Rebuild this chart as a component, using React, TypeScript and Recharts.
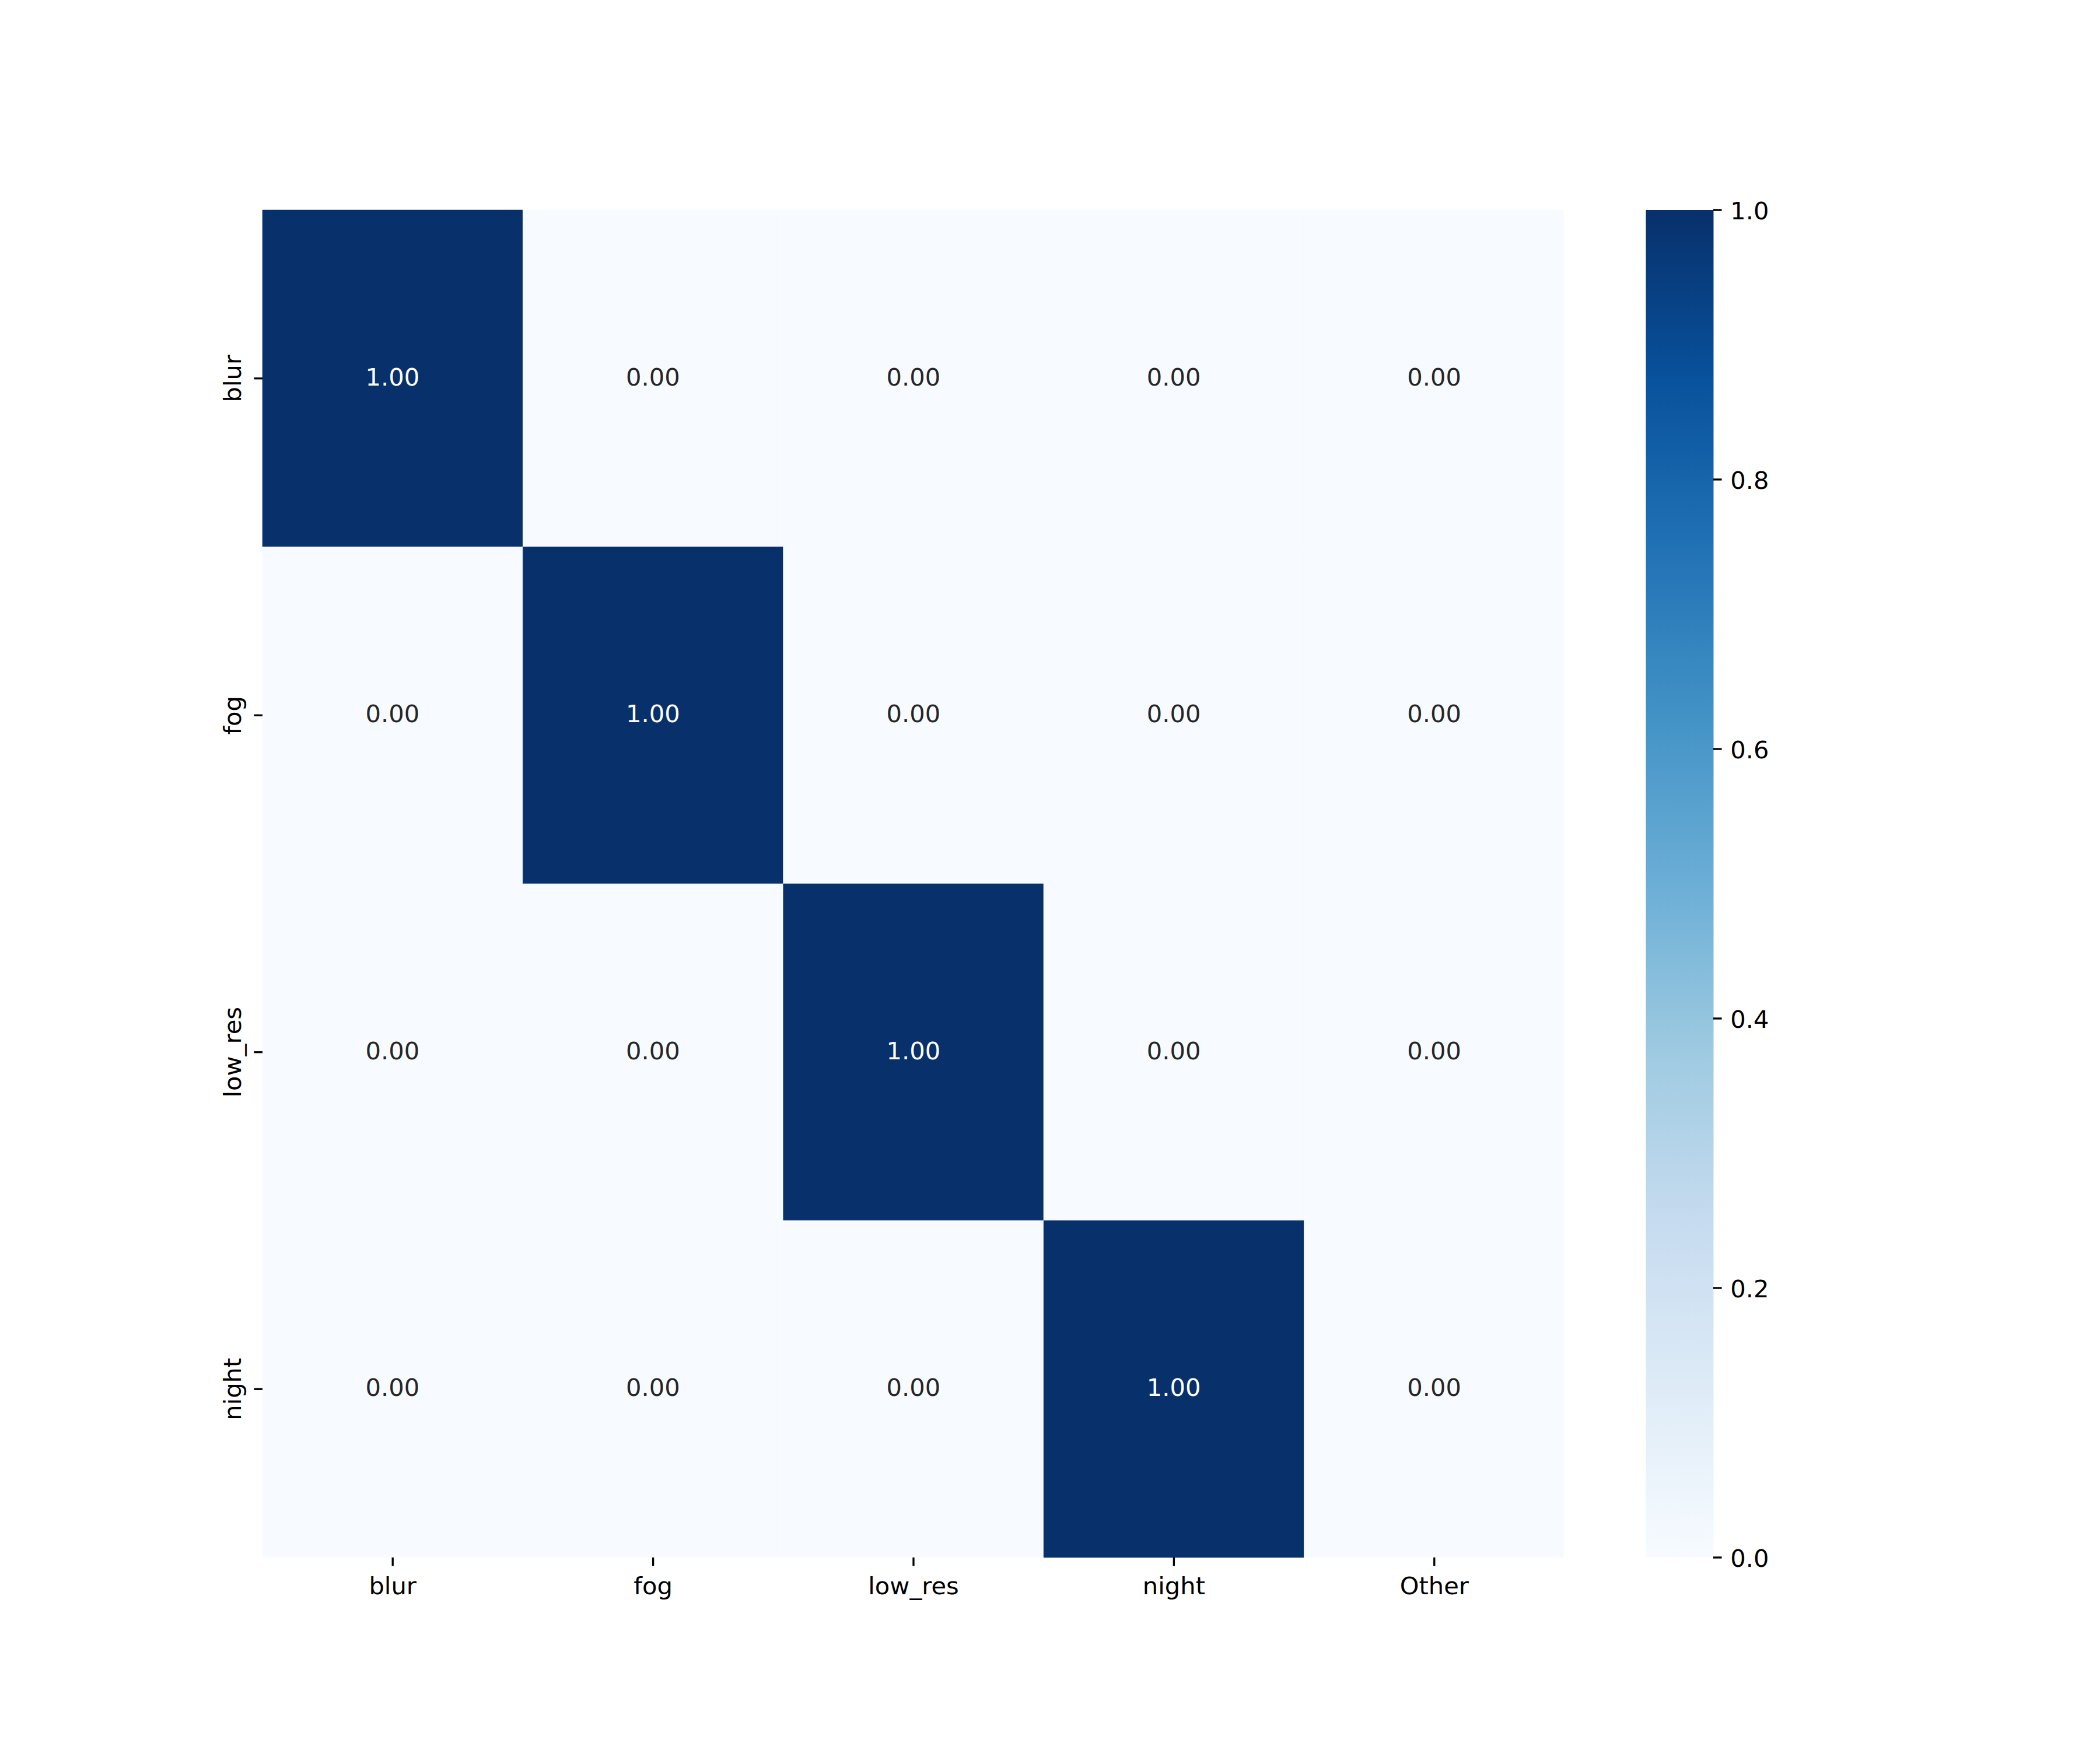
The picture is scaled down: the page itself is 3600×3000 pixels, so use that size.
import React from 'react'
import { BarChart, Bar, Cell, XAxis, YAxis, LabelList } from 'recharts'

// confusion matrix (rows = true label, cols = predicted)
const ROWS = ['blur', 'fog', 'low_res', 'night']
const COLS = ['blur', 'fog', 'low_res', 'night', 'Other']
const blurRow = [1.0, 0.0, 0.0, 0.0, 0.0]
const fogRow = [0.0, 1.0, 0.0, 0.0, 0.0]
const lowResRow = [0.0, 0.0, 1.0, 0.0, 0.0]
const nightRow = [0.0, 0.0, 0.0, 1.0, 0.0]
const MATRIX = [blurRow, fogRow, lowResRow, nightRow]
const ROW_TICKS = [0.5, 1.5, 2.5, 3.5]
const CBAR_TICKS = [0, 0.2, 0.4, 0.6, 0.8, 1.0]

const BLUES = ['#f7fbff', '#deebf7', '#c6dbef', '#9ecae1', '#6baed6', '#4292c6', '#2171b5', '#08519c', '#08306b']

const FONT = '"DejaVu Sans", sans-serif'
const FS = 41.67
const TICK = 14.58

function hex(c: string) {
  return [1, 3, 5].map(i => parseInt(c.slice(i, i + 2), 16))
}

function blues(v: number) {
  const t = Math.max(0, Math.min(1, v)) * (BLUES.length - 1)
  const i = Math.min(BLUES.length - 2, Math.floor(t))
  const f = t - i
  const a = hex(BLUES[i])
  const b = hex(BLUES[i + 1])
  const m = a.map((x, k) => Math.round(x + (b[k] - x) * f))
  return `rgb(${m[0]},${m[1]},${m[2]})`
}

// one stacked bar per column, one unit segment per row
const table = COLS.map((c, j) => {
  const o: any = { col: c }
  ROWS.forEach((_, i) => {
    o['u' + i] = 1
    o['v' + i] = MATRIX[i][j]
  })
  return o
})

const XTick = (props: any) => {
  const { x, y, payload } = props
  return (
    <text x={x} y={y + 33.5} textAnchor="middle" fontFamily={FONT} fontSize={FS} fill="#000">
      {payload.value}
    </text>
  )
}

const YTick = (props: any) => {
  const { x, y, payload } = props
  const bx = x - 7.8
  return (
    <text x={bx} y={y} textAnchor="middle" transform={`rotate(-90, ${bx}, ${y})`}
      fontFamily={FONT} fontSize={FS} fill="#000">
      {ROWS[Math.floor(payload.value)]}
    </text>
  )
}

const CbarTick = (props: any) => {
  const { x, y, payload } = props
  return (
    <text x={x} y={y + 15.5} textAnchor="start" fontFamily={FONT} fontSize={FS} fill="#000">
      {payload.value.toFixed(1)}
    </text>
  )
}

const cellLabel = (p: any) => {
  const v = Number(p.value)
  return (
    <text x={p.x + p.width / 2} y={p.y + p.height / 2 + 12} textAnchor="middle"
      fontFamily={FONT} fontSize={FS} fill={v > 0.5 ? '#ffffff' : '#262626'}>
      {v.toFixed(2)}
    </text>
  )
}

export default function App() {
  return (
    <div style={{ position: 'absolute', left: 0, top: 0, width: 3600, height: 3000, background: '#fff' }}>
      <div style={{ position: 'absolute', left: 0, top: 0 }}>
        <BarChart width={2800} height={3000} data={table} barCategoryGap={0} barGap={0}
          margin={{ top: 360, left: 350, right: 118, bottom: 230 }}>
          <XAxis dataKey="col" type="category" height={100} axisLine={false}
            tickLine={{ stroke: '#000', strokeWidth: 3.33 }} tickSize={TICK} tickMargin={TICK}
            tick={<XTick />} interval={0} />
          <YAxis type="number" domain={[0, 4]} reversed ticks={ROW_TICKS} width={100}
            axisLine={false} tickLine={{ stroke: '#000', strokeWidth: 3.33 }}
            tickSize={TICK} tickMargin={TICK} tick={<YTick />} interval={0} />
          {ROWS.map((r, i) => (
            <Bar key={r} dataKey={'u' + i} stackId="m" isAnimationActive={false}>
              {table.map((d, j) => (
                <Cell key={j} fill={blues(d['v' + i])} stroke={blues(d['v' + i])} strokeWidth={0.6} />
              ))}
              <LabelList dataKey={'v' + i} content={cellLabel} />
            </Bar>
          ))}
        </BarChart>
      </div>
      <div style={{ position: 'absolute', left: 2700, top: 0 }}>
        <BarChart width={500} height={3000} data={[{ name: 'cbar', v: 1 }]} barCategoryGap={0}
          margin={{ top: 360, left: 121.5, right: 163, bottom: 330 }}>
          <defs>
            <linearGradient id="bluesGrad" x1="0" y1="1" x2="0" y2="0">
              {BLUES.map((c, i) => (
                <stop key={c} offset={i / (BLUES.length - 1)} stopColor={c} />
              ))}
            </linearGradient>
          </defs>
          <XAxis dataKey="name" hide />
          <YAxis orientation="right" type="number" domain={[0, 1]} ticks={CBAR_TICKS} width={100}
            axisLine={false} tickLine={{ stroke: '#000', strokeWidth: 3.33 }}
            tickSize={TICK} tickMargin={TICK} tick={<CbarTick />} interval={0} />
          <Bar dataKey="v" fill="url(#bluesGrad)" isAnimationActive={false} />
        </BarChart>
      </div>
    </div>
  )
}
